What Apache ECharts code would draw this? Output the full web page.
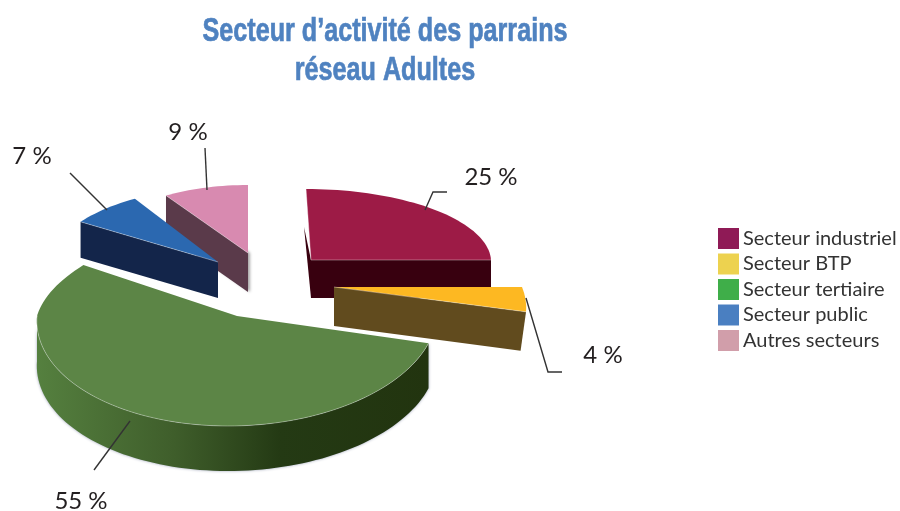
<!DOCTYPE html>
<html><head><meta charset="utf-8">
<style>html,body{margin:0;padding:0;background:#fff}#c{width:900px;height:511px}</style>
<script src="https://cdn.jsdelivr.net/npm/echarts@6/dist/echarts.min.js"></script>
</head><body><div id="c"></div>
<script>
var titleText = "Secteur d\u2019activit\u00e9 des parrains\nr\u00e9seau Adultes";
var categories = ["Secteur industriel","Secteur BTP","Secteur tertiaire","Secteur public","Autres secteurs"];
var shares = [25,4,55,7,9];
var labels = ["25 %","4 %","55 %","7 %","9 %"];
var legendColors = ["#8f1a56","#edd24f","#3fae49","#4a7fc1","#d19eaa"];
var topColors = ["#9d1b46","#fdb822","#5c8546","#2b68b0","#d88ab0"];
var wallColors = ["#38000f","#614b1e","#22340f","#13254a","#5a3a4a"];

// drawing geometry of each exploded slice (order of painting is given by paintOrder)
var geometry = [
 {cx:311,cy:260,rx:180,ry:71,depth:38,shear:0.07,walls:["start","end"],triangleStart:true},
 {cx:334,cy:287,rx:188,ry:100,depth:39,shear:0.4,lean:0.03,walls:["end"]},
 {cx:237,cy:316,rx:200,ry:110,ryUp:95,depth:45,shear:-0.08,shearUp:-0.3,walls:["arc"]},
 {cx:218,cy:262,rx:168,ry:75,depth:36,shear:-0.11,walls:["start"]},
 {cx:248,cy:253,rx:153,ry:68,depth:39,shear:0,walls:["start"],shadow:true}
];
var leaders = [
 {pts:[[425,210],[433,192],[447,192]],text:[491,177]},
 {pts:[[526,298],[548,372],[562,372]],text:[603,355]},
 {pts:[[130,421],[94,470]],text:[81,501]},
 {pts:[[107,210],[70,173]],text:[32,156]},
 {pts:[[207,190],[205,148]],text:[188,132]}
];
var paintOrder = [4,3,0,1,2];
var labelFont = "Lato, 'Open Sans', sans-serif";

var total = shares.reduce(function(a,b){return a+b},0);
function startOf(i){var s=0;for(var k=0;k<i;k++)s+=shares[k];return s/total*360;}

function makeRender(i){
  return function(params,api){
    var g = geometry[i], v = api.value(0);
    var a0 = startOf(i), a1 = a0 + v/total*360;
    function P(deg,dz){
      var r = deg*Math.PI/180, c = -Math.cos(r);
      var dx = Math.sin(r)*g.rx;
      var dy = c*(c<0&&g.ryUp?g.ryUp:g.ry);
      var sh = c<0&&g.shearUp!==undefined?g.shearUp:g.shear;
      var x = g.cx+dx+sh*dy, y = g.cy+dy;
      if(dz){ x -= (g.lean||0)*dx; y += dz; }
      return [x,y];
    }
    function arc(from,to,dz){
      var pts=[],n=Math.max(4,Math.ceil(Math.abs(to-from)/2));
      for(var k=0;k<=n;k++) pts.push(P(from+(to-from)*k/n,dz));
      return pts;
    }
    var apex=[g.cx,g.cy], apexB=[g.cx,g.cy+g.depth];
    var kids=[];
    var wallStyle={fill:wallColors[i]};
    if(g.shadow){wallStyle.shadowColor="rgba(0,0,0,.35)";wallStyle.shadowBlur=3;wallStyle.shadowOffsetX=2;}
    g.walls.forEach(function(w){
      if(w==="start"||w==="end"){
        var a = w==="start"?a0:a1;
        var far=P(a,g.depth);
        var poly = (w==="start"&&g.triangleStart)
          ? [apex,[far[0]-2,far[1]],apexB]
          : [apex,P(a,0),far,apexB];
        kids.push({type:"polygon",shape:{points:poly},style:wallStyle,silent:true});
      } else {
        var end = 270;
        var pts = arc(a0,end,0).concat(arc(end,a0,g.depth));
        kids.push({type:"polygon",shape:{points:pts},silent:true,style:{
          fill:new echarts.graphic.LinearGradient(0,0,1,0,[
            {offset:0,color:"#55803f"},{offset:0.35,color:"#3f5e2b"},{offset:0.62,color:"#243a14"},{offset:1,color:"#22340f"}]),
          shadowColor:"rgba(110,120,150,.7)",shadowBlur:3}});
      }
    });
    var topPts=[apex].concat(arc(a0,a1,0));
    kids.push({type:"polygon",shape:{points:topPts},style:{fill:topColors[i]},silent:true});
    g.walls.forEach(function(w){
      var pts = w==="arc"?arc(a0,270,0):[apex,P(w==="start"?a0:a1,0)];
      kids.push({type:"polyline",shape:{points:pts},style:{fill:null,stroke:"rgba(255,255,255,.35)",lineWidth:1},silent:true});
    });
    var L=leaders[i];
    kids.push({type:"polyline",shape:{points:L.pts},style:{fill:null,stroke:"#333",lineWidth:1.4},silent:true});
    kids.push({type:"text",style:{text:labels[i],x:L.text[0],y:L.text[1],textAlign:"center",textVerticalAlign:"middle",
      font:"24px "+labelFont,fill:"#231f20"},silent:true});
    return {type:"group",children:kids};
  };
}

var series = paintOrder.map(function(i){
  return {type:"custom",name:categories[i],coordinateSystem:"none",renderItem:makeRender(i),
    data:[[shares[i]]],itemStyle:{color:legendColors[i]},silent:true,animation:false};
});

var chart = echarts.init(document.getElementById("c"),null,{renderer:"canvas"});
chart.setOption({
  animation:false,
  backgroundColor:"#fff",
  graphic:[{type:"text",x:385,y:12,scaleX:0.74,silent:true,style:{text:titleText,textAlign:"center",
    font:"bold 34px 'Liberation Sans',sans-serif",lineHeight:39,fill:"#4f82c0",stroke:"#4f82c0",lineWidth:0.7}}],
  legend:{orient:"vertical",left:713,top:223,icon:"rect",itemWidth:21,itemHeight:21,itemGap:4.5,selectedMode:false,
    data:categories.map(function(n,i){return {name:n,itemStyle:{color:legendColors[i]}}}),
    textStyle:{fontFamily:labelFont,fontSize:20,color:"#333",padding:[5,0,0,-1]}},
  series:series
});
</script></body></html>
